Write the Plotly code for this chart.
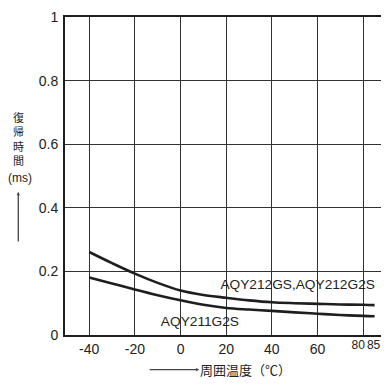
import plotly.graph_objects as go

# Data
temp_c = [-40, -30, -20, -10, 0, 10, 20, 30, 40, 50, 60, 70, 80, 85]
aqy212 = [0.261, 0.226, 0.193, 0.164, 0.140, 0.126, 0.117, 0.109, 0.103, 0.100, 0.098, 0.096, 0.095, 0.094]
aqy211 = [0.181, 0.162, 0.143, 0.125, 0.109, 0.095, 0.085, 0.080, 0.076, 0.071, 0.067, 0.063, 0.060, 0.059]

x_grid_ticks = [-40, -20, 0, 20, 40, 60, 80]
x_grid_text = ["-40", "-20", "0", "20", "40", "60", ""]
x_end_ticks_a = [80]
x_end_ticks_b = [85]
y_ticks = [0, 0.2, 0.4, 0.6, 0.8, 1]
y_tick_text = ["0", "0.2", "0.4", "0.6", "0.8", "1"]

series_labels = ["AQY212GS,AQY212G2S", "AQY211G2S"]
label_x = [51.3, 8.5]
label_y = [0.155, 0.039]
y_title = "復<br>帰<br>時<br>間"
y_unit = "(ms)"
x_title = "周囲温度（℃）"

FONT = "Liberation Sans, Arial, Noto Sans CJK JP, sans-serif"
CJK = "Noto Sans CJK JP"
INK = "#1e1e1e"
TXT = "#222"
XR = [-50.6, 90]

fig = go.Figure()
fig.add_trace(go.Scatter(x=temp_c, y=aqy212, mode="lines", line=dict(color=INK, width=2.6, shape="spline"),
                         xaxis="x", yaxis="y", showlegend=False, hoverinfo="skip"))
fig.add_trace(go.Scatter(x=temp_c, y=aqy211, mode="lines", line=dict(color=INK, width=2.6, shape="spline"),
                         xaxis="x2", yaxis="y", showlegend=False, hoverinfo="skip"))
fig.add_trace(go.Scatter(x=label_x, y=label_y, mode="text", text=series_labels,
                         textposition="middle center", textfont=dict(size=13.7, color=TXT, family=FONT),
                         xaxis="x3", yaxis="y", showlegend=False, hoverinfo="skip"))

# page body has an 8px margin, so the figure is sized/margined to compensate
fig.update_layout(
    width=381, height=377,
    margin=dict(l=57, r=1, t=5, b=50),
    paper_bgcolor="white", plot_bgcolor="white",
    font=dict(family=FONT, size=14, color=TXT),
    xaxis=dict(range=XR, tickmode="array", tickvals=x_grid_ticks, ticktext=x_grid_text,
               showgrid=True, gridcolor="#333", gridwidth=1, zeroline=False,
               showline=True, linecolor=INK, linewidth=2, mirror=True,
               ticks="", ticklabelstandoff=0, tickfont=dict(size=14)),
    xaxis2=dict(range=XR, overlaying="x", anchor="y", side="bottom", matches="x",
                tickmode="array", tickvals=x_end_ticks_a, ticktext=["80"],
                showgrid=False, zeroline=False, showline=False, ticks="",
                ticklabelstandoff=1, ticklabelshift=-5, tickfont=dict(size=12)),
    xaxis3=dict(range=XR, overlaying="x", anchor="y", side="bottom", matches="x",
                tickmode="array", tickvals=x_end_ticks_b, ticktext=["85"],
                showgrid=False, zeroline=False, showline=False, ticks="",
                ticklabelstandoff=1, ticklabelshift=-1, tickfont=dict(size=12),
                ticklabeloverflow="allow"),
    yaxis=dict(range=[0, 1], tickmode="array", tickvals=y_ticks, ticktext=y_tick_text,
               showgrid=True, gridcolor="#333", gridwidth=1, zeroline=False,
               showline=True, linecolor=INK, linewidth=2, mirror=True,
               ticks="", ticklabelstandoff=2, tickfont=dict(size=14),
               ticklabeloverflow="allow"),
)

annotations = [
    dict(x=-0.1455, y=0.618, xref="paper", yref="paper", text=y_title, showarrow=False,
         xanchor="center", yanchor="middle",
         font=dict(size=11, color=TXT, family=CJK), align="center"),
    dict(x=-0.139, y=0.493, xref="paper", yref="paper", text=y_unit, showarrow=False,
         xanchor="center", yanchor="middle",
         font=dict(size=12, color=TXT, family=FONT), align="center"),
    dict(x=-0.1455, y=0.450, xref="paper", yref="paper", text="", showarrow=True,
         ax=0, ay=51, arrowhead=2, arrowsize=0.5, arrowwidth=1.3, arrowcolor="#444"),
    dict(x=0.418, y=-0.1087, xref="paper", yref="paper", text="", showarrow=True,
         ax=-51, ay=0, arrowhead=2, arrowsize=0.5, arrowwidth=1.3, arrowcolor="#444"),
    dict(x=0.5633, y=-0.1087, xref="paper", yref="paper", text=x_title, showarrow=False,
         xanchor="center", yanchor="middle",
         font=dict(size=13, color=TXT, family=CJK)),
]
fig.update_layout(annotations=annotations)

fig.write_html("out.html")
